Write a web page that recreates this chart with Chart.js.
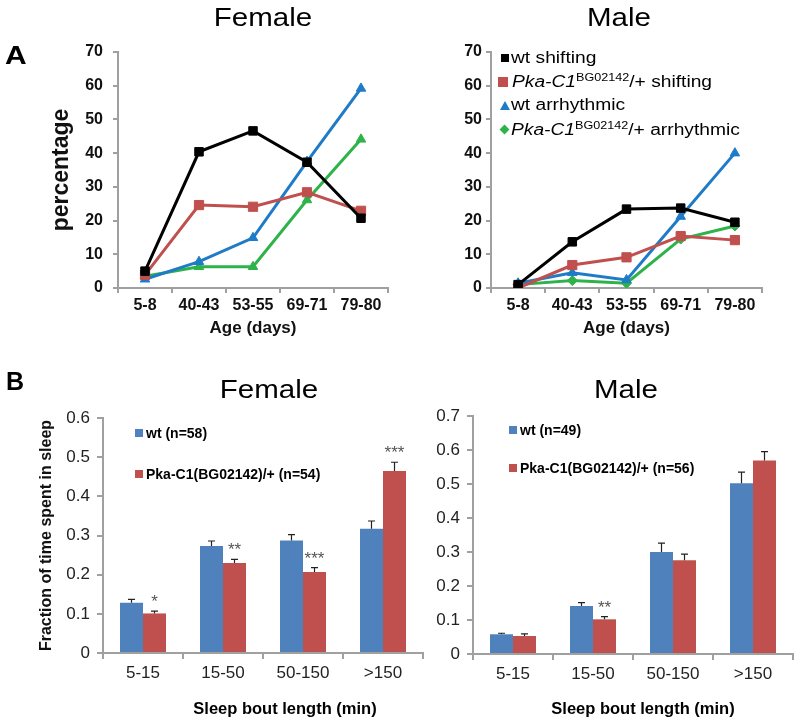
<!DOCTYPE html>
<html><head><meta charset="utf-8">
<script src="https://cdn.jsdelivr.net/npm/chart.js@4.4.1/dist/chart.umd.min.js"></script>
<style>
html,body{margin:0;padding:0;background:#fff;}
body{width:800px;height:722px;position:relative;overflow:hidden;font-family:"Liberation Sans",Arial,sans-serif;color:#000;}
canvas{position:absolute;}
.t{position:absolute;white-space:nowrap;line-height:1;}
.c{transform:translate(-50%,-50%) scaleX(1.18);}
.l{transform-origin:0 50%;transform:translateY(-50%) scaleX(1.2);font-size:16px;}
.lb{transform-origin:0 50%;transform:translateY(-50%);font-size:14px;font-weight:bold;}
.m{position:absolute;}
sup{font-size:10.5px;vertical-align:0;position:relative;top:-6px;}
</style></head><body>
<canvas id="cA1" width="400" height="343" style="left:0;top:0"></canvas>
<canvas id="cA2" width="400" height="343" style="left:400px;top:0"></canvas>
<canvas id="cB1" width="430" height="342" style="left:0;top:380px"></canvas>
<canvas id="cB2" width="370" height="342" style="left:430px;top:380px"></canvas>

<div class="t" style="left:5px;top:55px;transform:translateY(-50%) scaleX(1.2);transform-origin:0 50%;font-size:25px;font-weight:bold">A</div>
<div class="t" style="left:6px;top:381px;transform:translateY(-50%);font-size:25px;font-weight:bold">B</div>
<div class="t c" style="left:263px;top:17px;font-size:25px">Female</div>
<div class="t c" style="left:619px;top:17px;font-size:25px">Male</div>
<div class="t c" style="left:269px;top:389px;font-size:25px">Female</div>
<div class="t c" style="left:626px;top:389px;font-size:25px">Male</div>

<!-- legend A (male line chart) -->
<div class="m" style="left:501px;top:54px;width:8px;height:8px;background:#000"></div>
<div class="t l" style="left:511px;top:58px">wt shifting</div>
<div class="m" style="left:498px;top:77px;width:10px;height:10px;background:#C0504D"></div>
<div class="t l" style="left:512px;top:82px"><i>Pka-C1</i><sup>BG02142</sup>/+ shifting</div>
<div class="m" style="left:500px;top:101px;width:0;height:0;border-left:5px solid transparent;border-right:5px solid transparent;border-bottom:9px solid #1F7BC8"></div>
<div class="t l" style="left:511px;top:105px">wt arrhythmic</div>
<div class="m" style="left:501px;top:126px;width:7px;height:7px;background:#2DB34A;transform:rotate(45deg)"></div>
<div class="t l" style="left:511px;top:130px"><i>Pka-C1</i><sup>BG02142</sup>/+ arrhythmic</div>

<!-- legends B -->
<div class="m" style="left:135px;top:429px;width:8px;height:8px;background:#4F81BD"></div>
<div class="t lb" style="left:146px;top:433px">wt (n=58)</div>
<div class="m" style="left:135px;top:470px;width:8px;height:8px;background:#C0504D"></div>
<div class="t lb" style="left:146px;top:474px">Pka-C1(BG02142)/+ (n=54)</div>
<div class="m" style="left:509px;top:426px;width:8px;height:8px;background:#4F81BD"></div>
<div class="t lb" style="left:520px;top:430px">wt (n=49)</div>
<div class="m" style="left:509px;top:464px;width:8px;height:8px;background:#C0504D"></div>
<div class="t lb" style="left:520px;top:468px">Pka-C1(BG02142)/+ (n=56)</div>

<div class="t" style="left:285px;top:708px;transform:translate(-50%,-50%);font-size:16.5px;font-weight:bold">Sleep bout length (min)</div>
<div class="t" style="left:643px;top:708px;transform:translate(-50%,-50%);font-size:16.5px;font-weight:bold">Sleep bout length (min)</div>

<script>
// ---- Panel A data (percentage) ----
const ageCats = ['5-8', '40-43', '53-55', '69-71', '79-80'];
const femWtShift  = [5.0, 40.4, 46.6, 37.3, 20.7];
const femPkaShift = [3.9, 24.6, 24.1, 28.4, 22.9];
const femWtArr    = [2.6, 7.8, 14.9, 37.5, 59.2];
const femPkaArr   = [3.5, 6.3, 6.3, 26.1, 44.1];
const maleWtShift  = [1.0, 13.7, 23.4, 23.7, 19.5];
const malePkaShift = [0.0, 6.8, 9.1, 15.4, 14.2];
const maleWtArr    = [1.4, 4.5, 2.4, 21.2, 40.0];
const malePkaArr   = [1.0, 2.2, 1.4, 14.5, 18.4];
const pctTicks = ['0', '10', '20', '30', '40', '50', '60', '70'];

// ---- Panel B data (fraction of time spent in sleep) ----
const boutCats = ['5-15', '15-50', '50-150', '>150'];
const femSleepWt     = [0.128, 0.273, 0.287, 0.317];
const femSleepWtErr  = [0.009, 0.013, 0.015, 0.020];
const femSleepPka    = [0.101, 0.230, 0.207, 0.465];
const femSleepPkaErr = [0.006, 0.009, 0.011, 0.022];
const femStars = ['*', '**', '***', '***'];
const maleSleepWt     = [0.058, 0.141, 0.300, 0.502];
const maleSleepWtErr  = [0.003, 0.010, 0.026, 0.033];
const maleSleepPka    = [0.053, 0.102, 0.276, 0.569];
const maleSleepPkaErr = [0.006, 0.008, 0.018, 0.026];
const maleStars = ['', '**', '', ''];
const fracTicksF = ['0', '0.1', '0.2', '0.3', '0.4', '0.5', '0.6'];
const fracTicksM = ['0', '0.1', '0.2', '0.3', '0.4', '0.5', '0.6', '0.7'];

Chart.defaults.font.family = '"Liberation Sans", Arial, sans-serif';
const AX = '#a0a0a0';

const errorBarPlugin = {
  id: 'errbars',
  afterDatasetsDraw(chart) {
    const ctx = chart.ctx, ys = chart.scales.y;
    chart.data.datasets.forEach((ds, di) => {
      if (!ds.errors) return;
      const meta = chart.getDatasetMeta(di);
      meta.data.forEach((bar, i) => {
        const top = ys.getPixelForValue(ds.data[i] + ds.errors[i]);
        ctx.save();
        ctx.strokeStyle = '#222'; ctx.lineWidth = 1.2;
        ctx.beginPath();
        ctx.moveTo(bar.x, bar.y); ctx.lineTo(bar.x, top);
        ctx.moveTo(bar.x - 3.5, top); ctx.lineTo(bar.x + 3.5, top);
        ctx.stroke();
        if (ds.stars && ds.stars[i]) {
          ctx.fillStyle = '#555';
          ctx.font = '17px "Liberation Sans", Arial, sans-serif';
          ctx.textAlign = 'center'; ctx.textBaseline = 'alphabetic';
          ctx.fillText(ds.stars[i], bar.x, top - 4);
        }
        ctx.restore();
      });
    });
  }
};

function lineDs(data, color, style, radius) {
  return { data, borderColor: color, backgroundColor: color, pointBackgroundColor: color,
    pointBorderColor: color, borderWidth: 3, pointStyle: style, pointRadius: radius,
    pointBorderWidth: 1, tension: 0 };
}

function lineChart(id, sets, pad, yWidth, yTitle, tickPad) {
  new Chart(document.getElementById(id), {
    type: 'line',
    data: { labels: ageCats, datasets: sets },
    options: {
      responsive: false, animation: false,
      layout: { padding: pad },
      plugins: { legend: { display: false }, tooltip: { enabled: false } },
      scales: {
        x: {
          type: 'category', offset: true,
          grid: { drawOnChartArea: false, drawTicks: true, tickLength: 5, offset: true, color: AX, lineWidth: 2 },
          border: { display: true, color: AX, width: 2 },
          ticks: { font: { size: 16, weight: 'bold' }, color: '#111', padding: 3, maxRotation: 0, autoSkip: false },
          title: { display: true, text: 'Age (days)', font: { size: 17, weight: 'bold' }, color: '#111', padding: { top: 0, bottom: 4 } },
          afterFit: s => { s.height = 55; }
        },
        y: {
          min: 0, max: 70,
          grid: { drawOnChartArea: false, drawTicks: true, tickLength: 5, color: AX, lineWidth: 2 },
          border: { display: true, color: AX, width: 2 },
          ticks: { stepSize: 10, callback: (v, i) => pctTicks[i], font: { size: 16, weight: 'bold' }, color: '#111', padding: tickPad },
          title: { display: !!yTitle, text: yTitle || '', font: { size: 23, weight: 'bold' }, color: '#111', padding: { top: 4, bottom: 0 } },
          afterFit: s => { s.width = yWidth; }
        }
      }
    }
  });
}

lineChart('cA1', [
  lineDs(femWtShift, '#000000', 'rect', 6),
  lineDs(femPkaShift, '#C0504D', 'rect', 6.5),
  lineDs(femWtArr, '#1F7BC8', 'triangle', 5.5),
  lineDs(femPkaArr, '#2DB34A', 'triangle', 5.5)
], { left: 44, top: 52, right: 12, bottom: 0 }, 74, 'percentage', 10);

lineChart('cA2', [
  lineDs(maleWtShift, '#000000', 'rect', 6),
  lineDs(malePkaShift, '#C0504D', 'rect', 6.5),
  lineDs(maleWtArr, '#1F7BC8', 'triangle', 5.5),
  lineDs(malePkaArr, '#2DB34A', 'rectRot', 5)
], { left: 0, top: 52, right: 38, bottom: 0 }, 91, null, 4);

function barChart(id, wt, wtErr, pka, pkaErr, stars, yMax, ticks, pad, yWidth, xHeight, yTitle) {
  new Chart(document.getElementById(id), {
    type: 'bar',
    data: {
      labels: boutCats,
      datasets: [
        { data: wt, errors: wtErr, backgroundColor: '#4F81BD', borderWidth: 0, categoryPercentage: 0.575, barPercentage: 1 },
        { data: pka, errors: pkaErr, stars: stars, backgroundColor: '#C0504D', borderWidth: 0, categoryPercentage: 0.575, barPercentage: 1 }
      ]
    },
    options: {
      responsive: false, animation: false,
      layout: { padding: pad },
      plugins: { legend: { display: false }, tooltip: { enabled: false } },
      scales: {
        x: {
          grid: { drawOnChartArea: false, drawTicks: true, tickLength: 6, offset: true, color: AX, lineWidth: 2 },
          border: { display: true, color: AX, width: 2 },
          ticks: { font: { size: 17 }, color: '#222', padding: 4, maxRotation: 0, autoSkip: false },
          afterFit: s => { s.height = xHeight; }
        },
        y: {
          min: 0, max: yMax,
          grid: { drawOnChartArea: false, drawTicks: true, tickLength: 6, color: AX, lineWidth: 2 },
          border: { display: true, color: AX, width: 2 },
          ticks: { stepSize: 0.1, callback: (v, i) => ticks[i], font: { size: 17 }, color: '#222', padding: 7 },
          title: { display: !!yTitle, text: yTitle || '', font: { size: 16, weight: 'bold' }, color: '#111', padding: { top: 4, bottom: 0 } },
          afterFit: s => { s.width = yWidth; }
        }
      }
    },
    plugins: [errorBarPlugin]
  });
}

barChart('cB1', femSleepWt, femSleepWtErr, femSleepPka, femSleepPkaErr, femStars, 0.6, fracTicksF,
  { left: 33, top: 38, right: 7, bottom: 0 }, 70, 69, 'Fraction of time spent in sleep');
barChart('cB2', maleSleepWt, maleSleepWtErr, maleSleepPka, maleSleepPkaErr, maleStars, 0.7, fracTicksM,
  { left: 0, top: 36, right: 7, bottom: 0 }, 43, 68, null);
</script>
</body></html>
